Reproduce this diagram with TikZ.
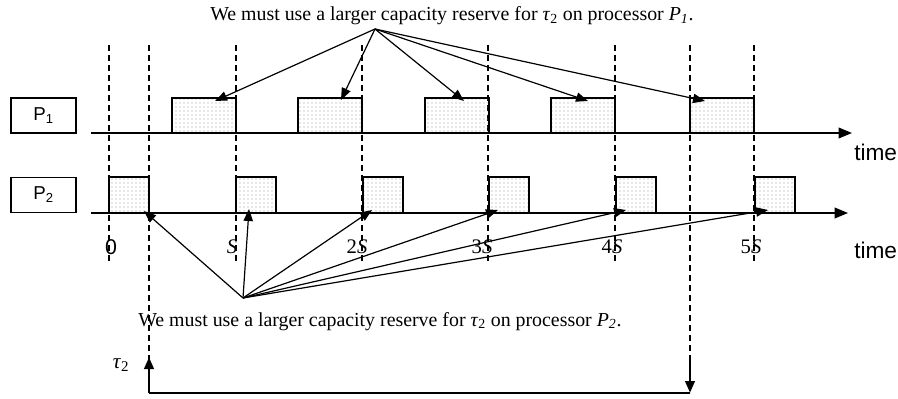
\documentclass[tikz,border=0pt]{standalone}
\usepackage{fontspec}
\setmainfont{Liberation Serif}
\setsansfont{Liberation Sans}
\usetikzlibrary{arrows.meta,patterns}
\begin{document}
\begin{tikzpicture}[x=0.75pt,y=-0.75pt,
  axisline/.style={line width=1.1pt,-{Triangle[length=10pt,width=8pt]}},
  guideline/.style={line width=1.1pt,dash pattern=on 4.5pt off 3pt},
  slotbox/.style={draw,line width=1.1pt,pattern=dots,pattern color=gray!80,inner sep=0pt,minimum height=26.25pt},
  plabel/.style={draw,line width=0.9pt,inner sep=0pt,minimum width=48.75pt,minimum height=26.25pt,font=\sffamily\fontsize{14}{16}\selectfont},
  ptrline/.style={line width=0.9pt,-{Triangle[length=9pt,width=7pt]}},
  ticklbl/.style={font=\fontsize{15.5}{17}\selectfont},
  captext/.style={font=\fontsize{14.9}{17}\selectfont,inner sep=0pt,anchor=base west},
  timelbl/.style={font=\sffamily\fontsize{17}{19}\selectfont,inner sep=0pt,anchor=base west}]
\useasboundingbox (0,0) rectangle (898,399);
% dashed guide lines
\draw[guideline] (109,45) -- (109,262);
\draw[guideline] (149,45) -- (149,360);
\draw[guideline] (236,45) -- (236,262);
\draw[guideline] (362,45) -- (362,262);
\draw[guideline] (488,45) -- (488,262);
\draw[guideline] (615,45) -- (615,262);
\draw[guideline] (690,45) -- (690,356);
\draw[guideline] (754,45) -- (754,262);
% processor labels
\node[plabel] (p1) at (43.5,115.5) {P\textsubscript{1}};
\node[plabel] (p2) at (43.5,195) {P\textsubscript{2}};
% P1 slots
\node[slotbox,minimum width=48pt] (a1) at (204,115.5) {};
\node[slotbox,minimum width=48pt] (a2) at (330,115.5) {};
\node[slotbox,minimum width=48pt] (a3) at (457,115.5) {};
\node[slotbox,minimum width=48pt] (a4) at (583,115.5) {};
\node[slotbox,minimum width=48pt] (a5) at (722,115.5) {};
% P2 slots
\node[slotbox,minimum width=30pt,minimum height=27pt] (b1) at (129,195) {};
\node[slotbox,minimum width=30pt,minimum height=27pt] (b2) at (256,195) {};
\node[slotbox,minimum width=30pt,minimum height=27pt] (b3) at (383,195) {};
\node[slotbox,minimum width=30pt,minimum height=27pt] (b4) at (509,195) {};
\node[slotbox,minimum width=30pt,minimum height=27pt] (b5) at (636,195) {};
\node[slotbox,minimum width=30pt,minimum height=27pt] (b6) at (775,195) {};
% axes
\coordinate (ax1s) at (91,133);
\coordinate (ax1e) at (852,133);
\coordinate (ax2s) at (91,213);
\coordinate (ax2e) at (848,213);
\draw[axisline] (ax1s) -- (ax1e);
\draw[axisline] (ax2s) -- (ax2e);
\node[timelbl] (t1) at (854,161) {time};
\node[timelbl] (t2) at (854,258) {time};
% tick labels
\node[font=\sffamily\fontsize{16}{18}\selectfont] (l0) at (111,247) {0};
\node[ticklbl] (l1) at (232,247) {\textit{S}};
\node[ticklbl] (l2) at (357,247) {2\textit{S}};
\node[ticklbl] (l3) at (482,247) {3\textit{S}};
\node[ticklbl] (l4) at (612,247) {4\textit{S}};
\node[ticklbl] (l5) at (751,247) {5\textit{S}};
% captions
\node[captext] (c1) at (210,21) {We must use a larger capacity reserve for \textit{τ}\textsubscript{2} on processor \textit{P\textsubscript{1}}.};
\node[captext] (c2) at (138,326) {We must use a larger capacity reserve for \textit{τ}\textsubscript{2} on processor \textit{P\textsubscript{2}}.};
% pointer sources and targets
\coordinate (src1) at (375,29);
\coordinate (src2) at (243,298);
\coordinate (ta1) at (215,101);
\coordinate (ta2) at (341,100);
\coordinate (ta3) at (464,101);
\coordinate (ta4) at (588,101);
\coordinate (ta5) at (705,101);
\foreach \t in {ta1,ta2,ta3,ta4,ta5} \draw[ptrline] (src1) -- (\t);
\coordinate (tb1) at (144,211);
\coordinate (tb2) at (249,209);
\coordinate (tb3) at (372,210);
\coordinate (tb4) at (498,210);
\coordinate (tb5) at (626,210);
\coordinate (tb6) at (768,210);
\foreach \t in {tb1,tb2,tb3,tb4,tb5,tb6} \draw[ptrline] (src2) -- (\t);
% tau2 span
\node[font=\fontsize{16}{18}\selectfont,inner sep=0pt,anchor=base] (tau) at (121,368) {\textit{τ}\textsubscript{2}};
\coordinate (s0) at (149,393);
\coordinate (s1) at (690,393);
\coordinate (s0top) at (149,357);
\coordinate (s1top) at (690,356);
\draw[line width=2.2pt,-{Triangle[length=9pt,width=7pt]}] (s0) -- (s0top);
\draw[line width=2.2pt] (s0) -- (s1);
\draw[line width=2.2pt,-{Triangle[length=9pt,width=7pt]}] (s1top) -- (s1);
\end{tikzpicture}
\end{document}
